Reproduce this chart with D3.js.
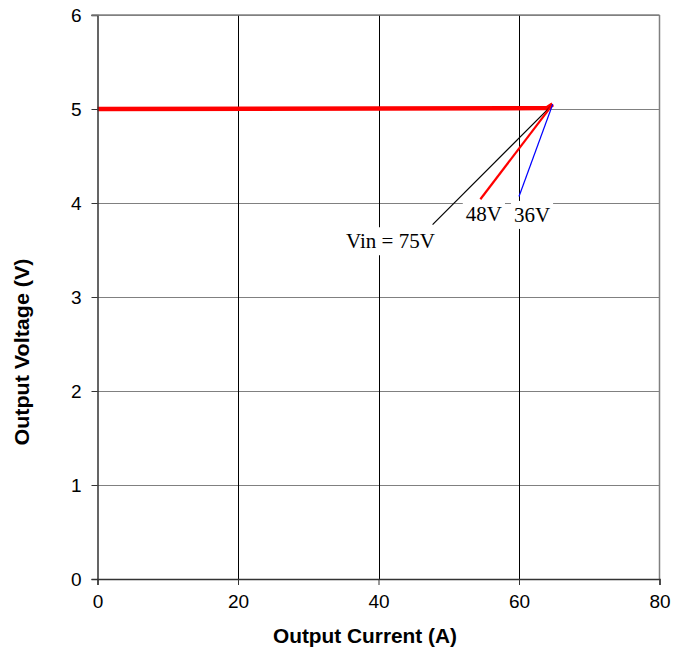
<!DOCTYPE html>
<html><head><meta charset="utf-8">
<script src="https://cdn.jsdelivr.net/npm/d3@7"></script>
<style>body{margin:0;background:#fff}</style>
</head><body>
<svg id="c" width="684" height="649"></svg>
<script>
const xTicks = [0, 20, 40, 60, 80];
const yTicks = [0, 1, 2, 3, 4, 5, 6];
const commonLine = [[0, 5.0], [64.0, 5.01], [64.8, 5.05]];
const vin75 = [[64.8, 5.05], [47.7, 3.77]];
const vin48 = [[64.8, 5.05], [54.5, 4.04]];
const vin36 = [[64.8, 5.05], [60.0, 4.07]];
const labels = [
  {text: "Vin = 75V", x: 41.7, y: 3.57},
  {text: "48V", x: 55.0, y: 3.86},
  {text: "36V", x: 61.85, y: 3.85}
];

const svg = d3.select("#c");
const L = 97.5, R = 659.5, T = 15, B = 579;
const x = d3.scaleLinear().domain([0, 80]).range([L, R]);
const y = d3.scaleLinear().domain([0, 6]).range([B, T]);

svg.append("g").selectAll("line").data(yTicks).join("line")
  .attr("x1", L).attr("x2", R)
  .attr("y1", d => Math.round(y(d)) + 0.5).attr("y2", d => Math.round(y(d)) + 0.5)
  .attr("stroke", "#808080").attr("stroke-width", 1);
svg.append("g").selectAll("line").data(xTicks.slice(1, -1)).join("line")
  .attr("y1", T).attr("y2", B)
  .attr("x1", d => Math.round(x(d)) + 0.5).attr("x2", d => Math.round(x(d)) + 0.5)
  .attr("stroke", "#000").attr("stroke-width", 1);
svg.append("line").attr("x1", R).attr("x2", R).attr("y1", T).attr("y2", B)
  .attr("stroke", "#808080").attr("stroke-width", 1.5);

const lg = svg.append("g");
const line = d3.line().x(d => x(d[0])).y(d => y(d[1]));

svg.append("path").datum(commonLine).attr("d", line).attr("fill", "none")
  .attr("stroke", "#ff0000").attr("stroke-width", 4.5);
svg.append("path").datum(vin75).attr("d", line).attr("fill", "none")
  .attr("stroke", "#000").attr("stroke-width", 1.2);
svg.append("path").datum(vin48).attr("d", line).attr("fill", "none")
  .attr("stroke", "#ff0000").attr("stroke-width", 2.2);
svg.append("path").datum(vin36).attr("d", line).attr("fill", "none")
  .attr("stroke", "#0000ff").attr("stroke-width", 1.2);

labels.forEach(l => {
  const t = svg.append("text").attr("x", x(l.x)).attr("y", y(l.y))
    .attr("font-family", "Liberation Serif, Times New Roman, serif")
    .attr("font-size", 21).attr("text-anchor", "middle")
    .attr("dominant-baseline", "middle").text(l.text);
  const bb = t.node().getBBox();
  lg.append("rect").attr("x", bb.x - 3).attr("y", bb.y - 2).attr("width", bb.width + 6)
    .attr("height", bb.height + 4).attr("fill", "#fff");
});

const xa = svg.append("g").attr("transform", `translate(0,${B})`)
  .call(d3.axisBottom(x).tickValues(xTicks).tickSize(6).tickPadding(10).tickFormat(d3.format("d")));
const ya = svg.append("g").attr("transform", `translate(${L},0)`)
  .call(d3.axisLeft(y).tickValues(yTicks).tickSize(6).tickPadding(10).tickFormat(d3.format("d")));
[xa, ya].forEach(a => {
  a.select(".domain").attr("stroke", "#333").attr("stroke-width", 1.5);
  a.selectAll(".tick line").attr("stroke", "#333");
  a.selectAll("text").attr("font-family", "Liberation Sans, Arial, sans-serif")
    .attr("font-size", 19).attr("fill", "#000");
});
svg.append("line").attr("x1", L - 6).attr("x2", R).attr("y1", T).attr("y2", T)
  .attr("stroke", "#808080").attr("stroke-width", 1.5);

svg.append("text").attr("x", 365).attr("y", 643)
  .attr("text-anchor", "middle").attr("font-family", "Liberation Sans, Arial, sans-serif")
  .attr("font-weight", "bold").attr("font-size", 19.5).attr("textLength", 184)
  .attr("lengthAdjust", "spacingAndGlyphs").text("Output Current (A)");
svg.append("text").attr("transform", `translate(29,352) rotate(-90)`)
  .attr("text-anchor", "middle").attr("font-family", "Liberation Sans, Arial, sans-serif")
  .attr("font-weight", "bold").attr("font-size", 19.5).attr("textLength", 187)
  .attr("lengthAdjust", "spacingAndGlyphs").text("Output Voltage (V)");
</script>
</body></html>
